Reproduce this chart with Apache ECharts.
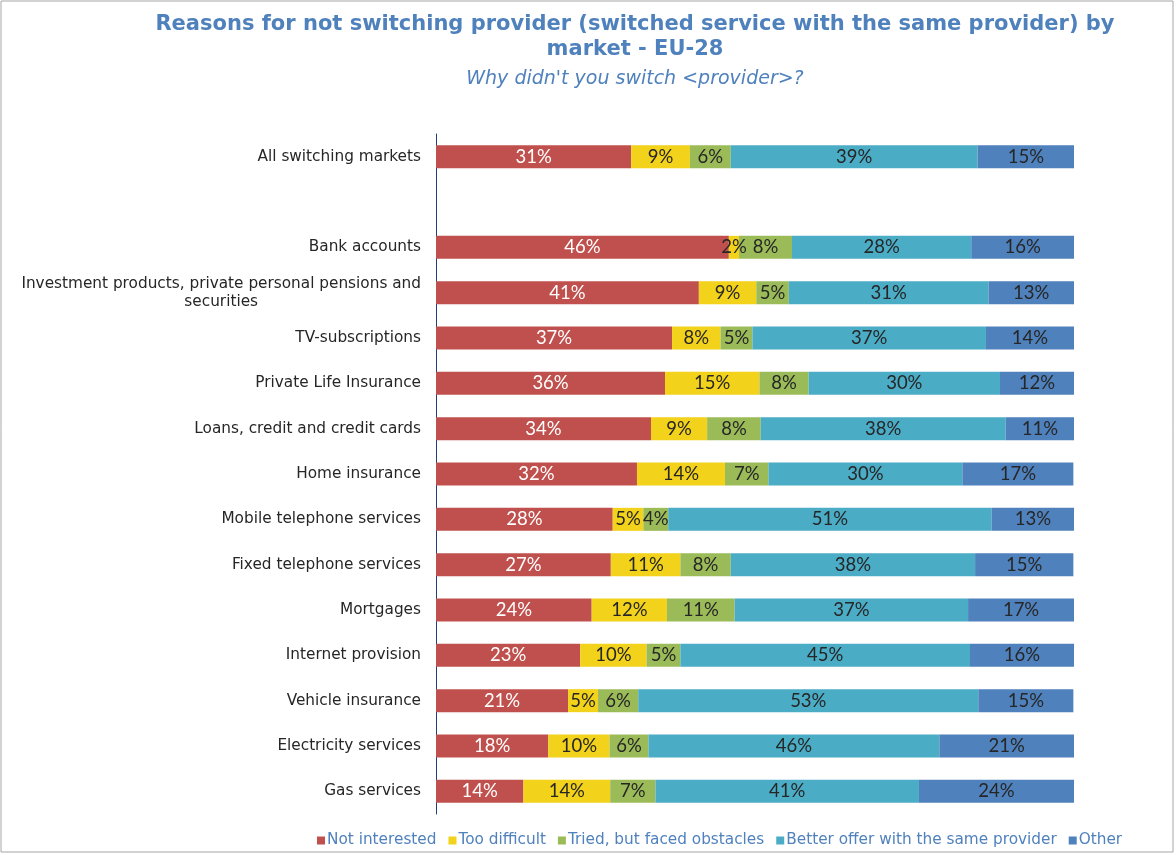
<!DOCTYPE html>
<html>
<head>
<meta charset="utf-8">
<script src="https://cdn.jsdelivr.net/npm/echarts@6/dist/echarts.min.js"></script>
<style>
  html, body { margin: 0; padding: 0; background: #fff; }
  #chart { width: 1176px; height: 855px; }
</style>
</head>
<body>
<div id="chart"></div>
<script>
// markets, top to bottom ('' is the empty row under the total)
var markets = [
    'All switching markets', '', 'Bank accounts',
    'Investment products, private personal pensions and\nsecurities',
    'TV-subscriptions', 'Private Life Insurance', 'Loans, credit and credit cards',
    'Home insurance', 'Mobile telephone services', 'Fixed telephone services',
    'Mortgages', 'Internet provision', 'Vehicle insurance', 'Electricity services', 'Gas services'
];
var reasons = ['Not interested', 'Too difficult', 'Tried, but faced obstacles', 'Better offer with the same provider', 'Other'];

// shares in %
var notInterested  = [30.6, null, 45.9, 41.2, 37.0, 35.9, 33.7, 31.5, 27.7, 27.4, 24.4, 22.6, 20.7, 17.6, 13.7];
var tooDifficult   = [9.2,  null, 1.6,  9.0,  7.6,  14.8, 8.8,  13.8, 4.8,  10.9, 11.8, 10.4, 4.7,  9.6,  13.6];
var triedObstacles = [6.4,  null, 8.3,  5.1,  5.0,  7.7,  8.4,  6.8,  3.9,  7.9,  10.6, 5.3,  6.3,  6.1,  7.1];
var betterOffer    = [38.7, null, 28.1, 31.3, 36.6, 30.0, 38.4, 30.4, 50.7, 38.3, 36.6, 45.4, 53.3, 45.6, 41.3];
var other          = [15.1, null, 16.2, 13.4, 13.8, 11.6, 10.7, 17.4, 12.9, 15.4, 16.6, 16.4, 14.9, 21.1, 24.4];

var colors = ['#C0504D', '#F2D21A', '#9BBB59', '#4BACC6', '#4F81BD'];

var myChart = echarts.init(document.getElementById('chart'));

function makeSeries(name, data, idx) {
    return {
        name: name,
        type: 'bar',
        stack: 'total',
        barWidth: 23,
        data: data,
        itemStyle: { color: colors[idx] },
        label: {
            show: true,
            position: 'inside',
            color: idx === 0 ? '#ffffff' : '#262626',
            fontFamily: 'Lato',
            fontSize: 18.5,
            formatter: function (p) {
                return p.value == null ? '' : Math.round(p.value) + '%';
            }
        }
    };
}

myChart.setOption({
    animation: false,
    textStyle: { fontFamily: 'DejaVu Sans' },
    title: {
        text: 'Reasons for not switching provider (switched service with the same provider) by\nmarket - EU-28',
        subtext: "Why didn't you switch <provider>?",
        left: 630,
        top: 7,
        textAlign: 'center',
        itemGap: 8,
        textStyle: {
            color: '#4F81BD',
            fontFamily: 'DejaVu Sans',
            fontWeight: 'bold',
            fontSize: 21,
            lineHeight: 25
        },
        subtextStyle: {
            color: '#4F81BD',
            fontFamily: 'DejaVu Sans',
            fontStyle: 'italic',
            fontSize: 19
        }
    },
    legend: {
        data: reasons,
        bottom: 2,
        left: 312,
        icon: 'rect',
        itemWidth: 8,
        itemHeight: 8,
        itemGap: 12,
        textStyle: {
            color: '#4F81BD',
            fontFamily: 'DejaVu Sans',
            fontSize: 15.3,
            padding: [0, 0, 0, -3]
        }
    },
    grid: {
        left: 436,
        right: 102,
        top: 134,
        bottom: 41,
        containLabel: false
    },
    xAxis: {
        type: 'value',
        min: 0,
        max: 100,
        show: false
    },
    yAxis: {
        type: 'category',
        inverse: true,
        data: markets,
        axisLine: { show: true, lineStyle: { color: '#1F3F77', width: 1 } },
        axisTick: { show: false },
        axisLabel: {
            margin: 15,
            color: '#262626',
            fontFamily: 'DejaVu Sans',
            fontSize: 15.3,
            formatter: function (v) {
                if (v.indexOf('\n') >= 0) {
                    return v.split('\n').map(function (s) { return '{c|' + s + '}'; }).join('\n');
                }
                return v;
            },
            rich: {
                c: { align: 'center', fontSize: 15.3, fontFamily: 'DejaVu Sans', color: '#262626', lineHeight: 18 }
            }
        }
    },
    series: [
        makeSeries(reasons[0], notInterested, 0),
        makeSeries(reasons[1], tooDifficult, 1),
        makeSeries(reasons[2], triedObstacles, 2),
        makeSeries(reasons[3], betterOffer, 3),
        makeSeries(reasons[4], other, 4)
    ],
    graphic: [{
        type: 'rect',
        shape: { x: 1, y: 1, width: 1172, height: 851 },
        style: { fill: 'none', stroke: '#A6A6A6', lineWidth: 1 },
        silent: true
    }]
});
</script>
</body>
</html>
